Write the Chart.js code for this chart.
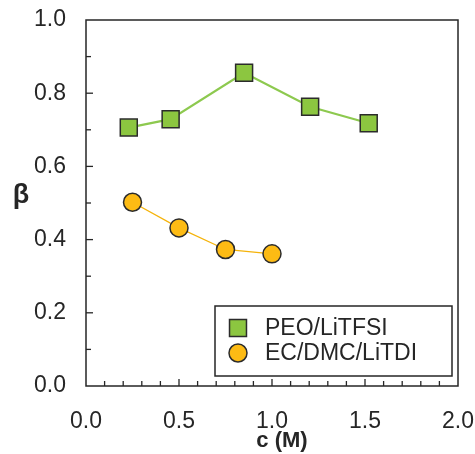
<!DOCTYPE html>
<html>
<head>
<meta charset="utf-8">
<script src="https://cdn.jsdelivr.net/npm/chart.js@4.4.1/dist/chart.umd.min.js"></script>
<style>
  html, body { margin: 0; padding: 0; background: #fff; }
  #wrap { width: 475px; height: 454px; position: relative; }
</style>
</head>
<body>
<div id="wrap"><canvas id="betaChart"></canvas></div>
<script>
// --- data ---
const peoC    = [0.23, 0.455, 0.85, 1.205, 1.52];
const peoBeta = [0.706, 0.729, 0.856, 0.763, 0.718];
const ecC     = [0.25, 0.5, 0.75, 1.0];
const ecBeta  = [0.502, 0.432, 0.373, 0.361];
const seriesLabels = ['PEO/LiTFSI', 'EC/DMC/LiTDI'];
const xTitle = 'c (M)';
const yTitle = 'β';

const FONT = "'Liberation Sans', Arial, sans-serif";
const INK  = '#262626';

// scale boxes get fixed sizes, no extra label padding
function fixBox(s, w, h) {
  if (w) s.width = w;
  if (h) s.height = h;
  s.paddingTop = s.paddingBottom = s.paddingLeft = s.paddingRight = 0;
}

// ticks inward + frame + axis titles + legend inside the plot
const framePlugin = {
  id: 'frame',
  afterDraw(chart) {
    const { ctx, chartArea: a, scales: { x, y } } = chart;
    ctx.save();
    ctx.strokeStyle = INK;
    ctx.lineWidth = 1.5;
    ctx.strokeRect(a.left, a.top, a.right - a.left, a.bottom - a.top);

    // x ticks every 0.1, major at 0.5
    ctx.lineWidth = 1.3;
    for (let i = 1; i < 20; i++) {
      const px = x.getPixelForValue(i / 10);
      const len = i % 5 === 0 ? 7 : 5;
      ctx.beginPath();
      ctx.moveTo(px, a.bottom);
      ctx.lineTo(px, a.bottom - len);
      ctx.stroke();
    }
    // y ticks every 0.1, major at 0.2
    for (let i = 1; i < 10; i++) {
      const py = y.getPixelForValue(i / 10);
      const len = i % 2 === 0 ? 7 : 5;
      ctx.beginPath();
      ctx.moveTo(a.left, py);
      ctx.lineTo(a.left + len, py);
      ctx.stroke();
    }

    // axis titles
    ctx.fillStyle = INK;
    ctx.font = 'bold 22px ' + FONT;
    ctx.textAlign = 'center';
    ctx.textBaseline = 'middle';
    ctx.fillText(xTitle, 282, 441);
    ctx.font = 'bold 27px ' + FONT;
    ctx.fillText(yTitle, 21, 196);

    // legend box
    const lx = 215, ly = 306, lw = 237, lh = 70;
    ctx.fillStyle = '#fff';
    ctx.fillRect(lx, ly, lw, lh);
    ctx.lineWidth = 1.5;
    ctx.strokeStyle = INK;
    ctx.strokeRect(lx, ly, lw, lh);
    ctx.font = '23px ' + FONT;
    ctx.textAlign = 'left';
    chart.data.datasets.forEach((ds, i) => {
      const cy = 328 + i * 25;
      const opts = {
        pointStyle: ds.pointStyle,
        radius: ds.pointRadius,
        rotation: 0,
        borderWidth: ds.pointBorderWidth
      };
      ctx.fillStyle = ds.pointBackgroundColor;
      ctx.strokeStyle = ds.pointBorderColor;
      ctx.lineWidth = ds.pointBorderWidth;
      Chart.helpers.drawPoint(ctx, opts, 238, cy);
      ctx.fillStyle = INK;
      ctx.fillText(ds.label, 265, cy + 1);
    });
    ctx.restore();
  }
};

new Chart(document.getElementById('betaChart'), {
  type: 'scatter',
  data: {
    datasets: [
      {
        label: seriesLabels[0],
        data: peoC.map((c, i) => ({ x: c, y: peoBeta[i] })),
        showLine: true,
        borderColor: '#8dc94f',
        borderWidth: 2.2,
        pointStyle: 'rect',
        pointRadius: 12,
        pointBackgroundColor: '#8cc640',
        pointBorderColor: '#2b2b2b',
        pointBorderWidth: 1.5
      },
      {
        label: seriesLabels[1],
        data: ecC.map((c, i) => ({ x: c, y: ecBeta[i] })),
        showLine: true,
        borderColor: '#f5b30a',
        borderWidth: 1.3,
        pointStyle: 'circle',
        pointRadius: 9,
        pointBackgroundColor: '#fdbb14',
        pointBorderColor: '#2b2b2b',
        pointBorderWidth: 1.5
      }
    ]
  },
  options: {
    responsive: true,
    maintainAspectRatio: false,
    animation: false,
    layout: { autoPadding: false, padding: { top: 20, right: 17, left: 0, bottom: 0 } },
    plugins: { legend: { display: false }, tooltip: { enabled: false } },
    scales: {
      x: {
        type: 'linear',
        min: 0, max: 2,
        afterFit: s => fixBox(s, 0, 68),
        grid: { display: false, drawTicks: false },
        border: { display: false },
        ticks: {
          stepSize: 0.5,
          padding: 22,
          color: INK,
          font: { family: FONT, size: 23 },
          callback: v => v.toFixed(1)
        }
      },
      y: {
        type: 'linear',
        min: 0, max: 1,
        afterFit: s => fixBox(s, 86, 0),
        grid: { display: false, drawTicks: false },
        border: { display: false },
        ticks: {
          stepSize: 0.2,
          padding: 20,
          color: INK,
          font: { family: FONT, size: 23 },
          callback: v => v.toFixed(1)
        }
      }
    }
  },
  plugins: [framePlugin]
});
</script>
</body>
</html>
